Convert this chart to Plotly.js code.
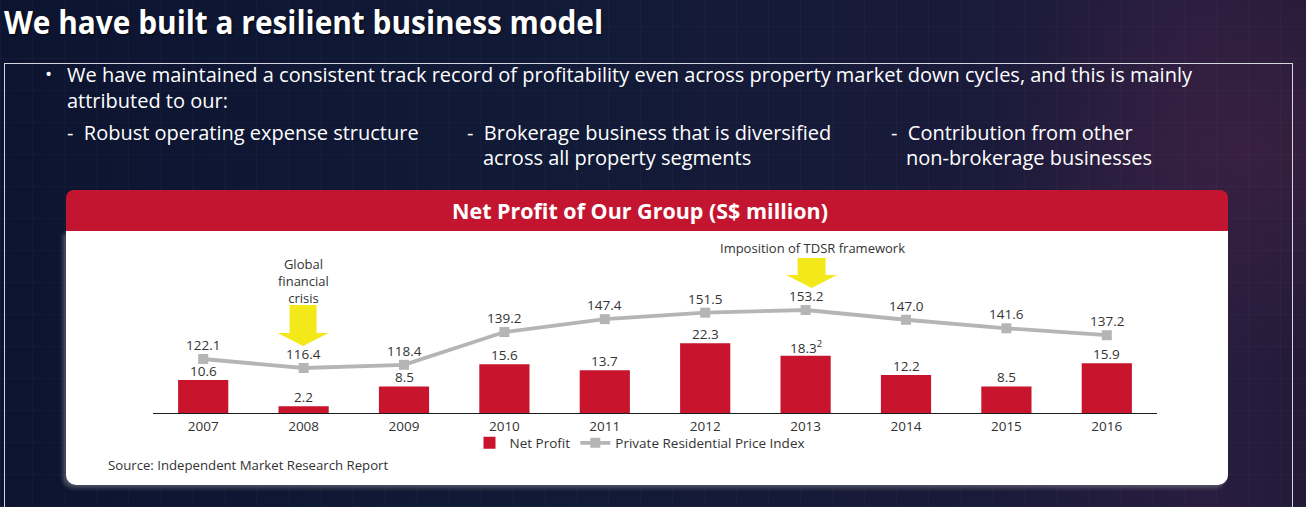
<!DOCTYPE html>
<html>
<head>
<meta charset="utf-8">
<script src="https://cdn.plot.ly/plotly-3.0.1.min.js"></script>
<style>
  html, body { margin:0; padding:0; }
  body {
    width:1306px; height:507px; overflow:hidden; position:relative;
    background:
      repeating-linear-gradient(90deg, rgba(255,255,255,0.025) 0 1px, transparent 1px 32px),
      repeating-linear-gradient(0deg, rgba(255,255,255,0.025) 0 1px, transparent 1px 32px),
      radial-gradient(ellipse 260px 220px at 1250px 150px, rgba(70,35,70,0.55), rgba(0,0,0,0) 100%),
      linear-gradient(90deg, #0c1430 0%, #111a37 45%, #1a1a3a 75%, #281d3e 92%, #231a38 100%);
    font-family: "Open Sans", sans-serif;
  }
  .t { position:absolute; white-space:nowrap; color:#fff; line-height:1; display:inline-block; transform-origin:left center; }
  #frame { position:absolute; left:4px; top:63px; width:1289px; height:520px; border:1.5px solid #d6d6de; box-sizing:border-box; }
  #hdr { position:absolute; left:66px; top:190px; width:1162px; height:41px; background:#c41530; border-radius:8px 8px 0 0; }
  #panel { position:absolute; left:66px; top:231px; width:1162px; height:254px; background:#fff; border-radius:0 0 10px 10px; box-shadow:-3px 3px 4px rgba(120,120,130,0.6); }
  #chart { position:absolute; left:0; top:0; width:1306px; height:507px; }
</style>
</head>
<body>
<div id="frame"></div>
<div id="hdr"></div>
<div id="panel"></div>

<span class="t" id="title" data-x="4" data-cy="22" data-w="599" style="font-size:33px;font-weight:700;text-shadow:1px 1px 2px rgba(0,0,0,0.7);">We have built a resilient business model</span>

<span class="t" data-x="45" data-cy="75" style="font-size:19px;">•</span>
<span class="t bul" id="l1" data-x="67" data-cy="75" data-w="1125" style="font-size:19.5px;">We have maintained a consistent track record of profitability even across property market down cycles, and this is mainly</span>
<span class="t bul" data-x="67" data-cy="101" style="font-size:19.5px;">attributed to our:</span>
<span class="t bul" data-x="67" data-cy="133" style="font-size:19.5px;">-&nbsp; Robust operating expense structure</span>
<span class="t bul" data-x="467" data-cy="133" style="font-size:19.5px;">-&nbsp; Brokerage business that is diversified</span>
<span class="t bul" data-x="483" data-cy="158" style="font-size:19.5px;">across all property segments</span>
<span class="t bul" data-x="891" data-cy="133" style="font-size:19.5px;">-&nbsp; Contribution from other</span>
<span class="t bul" data-x="906" data-cy="158" style="font-size:19.5px;">non-brokerage businesses</span>

<span class="t" id="ctitle" data-x="452" data-cy="212" data-w="376" style="font-size:21px;font-weight:700;">Net Profit of Our Group (S$ million)</span>

<div id="chart"></div>

<script>
// ---------------- data ----------------
const years = ['2007','2008','2009','2010','2011','2012','2013','2014','2015','2016'];
const netProfit = [10.6, 2.2, 8.5, 15.6, 13.7, 22.3, 18.3, 12.2, 8.5, 15.9];
const profitNotes = ['', '', '', '', '', '', '2', '', '', ''];
const priceIndex = [122.1, 116.4, 118.4, 139.2, 147.4, 151.5, 153.2, 147.0, 141.6, 137.2];
const seriesNames = ['Net Profit', 'Private Residential Price Index'];
const events = [
  { year: '2008', label: 'Global<br>financial<br>crisis' },
  { year: '2013', label: 'Imposition of TDSR framework' }
];
const sourceNote = 'Source: Independent Market Research Report';

// ---------------- text placement for slide ----------------
function placeTexts() {
  const els = document.querySelectorAll('.t');
  els.forEach(el => {
    const fs = parseFloat(el.style.fontSize);
    el.style.left = el.dataset.x + 'px';
    el.style.top = (parseFloat(el.dataset.cy) - 0.53 * fs) + 'px';
  });
  let bulScale = 1;
  els.forEach(el => {
    if (el.dataset.w) {
      el.style.transform = 'none';
      const w = el.getBoundingClientRect().width;
      const s = parseFloat(el.dataset.w) / w;
      el.style.transform = 'scaleX(' + s + ')';
      if (el.id === 'l1') bulScale = s;
    }
  });
  document.querySelectorAll('.bul').forEach(el => {
    if (el.id !== 'l1') el.style.transform = 'scaleX(' + bulScale + ')';
  });
}

// ---------------- chart ----------------
const W = 1306, H = 507;
const M = { l: 153, r: 149, t: 240, b: 94 };
const plotW = W - M.l - M.r, plotH = H - M.t - M.b;
const catIndex = y => years.indexOf(y);
const xPaper = (i, dxPx) => ((i + 0.5) * plotW / years.length + (dxPx || 0)) / plotW;
const yPaper = yPx => (H - M.b - yPx) / plotH;

function arrowPath(i, c, top, headTop, tip, shaftHalf, headHalf) {
  const p = [
    [xPaper(i, c - shaftHalf), yPaper(top)],
    [xPaper(i, c + shaftHalf), yPaper(top)],
    [xPaper(i, c + shaftHalf), yPaper(headTop)],
    [xPaper(i, c + headHalf), yPaper(headTop)],
    [xPaper(i, c), yPaper(tip)],
    [xPaper(i, c - headHalf), yPaper(headTop)],
    [xPaper(i, c - shaftHalf), yPaper(headTop)]
  ];
  return 'M' + p.map(q => q[0].toFixed(5) + ',' + q[1].toFixed(5)).join(' L') + ' Z';
}

const txtColor = '#333333';
const labelFont = { family: 'Open Sans', size: 13.5, color: txtColor };

const barTrace = {
  type: 'bar', x: years, y: netProfit, name: seriesNames[0],
  marker: { color: '#c8142d' }, width: 0.5,
  hoverinfo: 'x+y'
};
const lineTrace = {
  type: 'scatter', mode: 'lines+markers', x: years, y: priceIndex, yaxis: 'y2',
  name: seriesNames[1],
  line: { color: '#b5b5b5', width: 3.8 },
  marker: { symbol: 'square', size: 10, color: '#b5b5b5' },
  cliponaxis: false
};

const shapes = [
  { type: 'path', xref: 'paper', yref: 'paper', layer: 'above',
    path: arrowPath(catIndex(events[0].year), -0.5, 305, 333, 346, 13.5, 25.5),
    fillcolor: '#f3e81a', line: { width: 0 } },
  { type: 'path', xref: 'paper', yref: 'paper', layer: 'above',
    path: arrowPath(catIndex(events[1].year), 6, 258, 275, 288, 14, 25.5),
    fillcolor: '#f3e81a', line: { width: 0 } }
];

const annotations = [];
// data labels for bars
netProfit.forEach((v, i) => {
  annotations.push({
    xref: 'x', x: i, yref: 'y', y: v, yanchor: 'middle', yshift: 9,
    text: v.toFixed(1) + (profitNotes[i] ? '<sup>' + profitNotes[i] + '</sup>' : ''),
    showarrow: false, font: labelFont
  });
});
// data labels for line
priceIndex.forEach((v, i) => {
  annotations.push({
    xref: 'x', x: i, yref: 'y2', y: v, yanchor: 'middle', yshift: 14,
    text: v.toFixed(1), showarrow: false, font: labelFont
  });
});
annotations.push(
  { xref: 'paper', x: xPaper(catIndex(events[0].year), 0), xanchor: 'center', yref: 'paper', y: yPaper(281), yanchor: 'middle',
    text: events[0].label, showarrow: false,
    font: { family: 'Open Sans', size: 13, color: txtColor } },
  { xref: 'paper', x: xPaper(catIndex(events[1].year), 7), xanchor: 'center', yref: 'paper', y: yPaper(248), yanchor: 'middle',
    text: events[1].label, showarrow: false,
    font: { family: 'Open Sans', size: 13, color: txtColor } },
  { xref: 'paper', x: (106 - M.l) / plotW, xanchor: 'left', yref: 'paper', y: yPaper(465), yanchor: 'middle',
    text: sourceNote, showarrow: false,
    font: { family: 'Open Sans', size: 13.2, color: txtColor } }
);

const layout = {
  width: W, height: H,
  margin: { l: M.l, r: M.r, t: M.t, b: M.b, pad: 0 },
  paper_bgcolor: 'rgba(0,0,0,0)', plot_bgcolor: 'rgba(0,0,0,0)',
  showlegend: true,
  legend: { orientation: 'h', x: (640 - M.l) / plotW, xanchor: 'center', y: yPaper(443), yanchor: 'middle',
    font: { family: 'Open Sans', size: 13.5, color: txtColor }, bgcolor: 'rgba(0,0,0,0)', traceorder: 'normal',
    itemwidth: 30 },
  xaxis: { type: 'category', categoryorder: 'array', categoryarray: years,
    range: [-0.5, years.length - 0.5], autorange: false,
    showline: true, linecolor: '#1e1e1e', linewidth: 1.3,
    ticks: '', showgrid: false, zeroline: false, fixedrange: true,
    tickfont: { family: 'Open Sans', size: 13.5, color: txtColor } },
  yaxis: { range: [0, 55.4], autorange: false, visible: false, showgrid: false, zeroline: false, fixedrange: true },
  yaxis2: { range: [87.85, 197.6], autorange: false, overlaying: 'y', visible: false, showgrid: false, zeroline: false, fixedrange: true },
  shapes: shapes,
  annotations: annotations
};

Plotly.newPlot('chart', [barTrace, lineTrace], layout, { displayModeBar: false, staticPlot: true });

if (document.fonts && document.fonts.ready) {
  document.fonts.ready.then(placeTexts);
} else { placeTexts(); }
placeTexts();
</script>
</body>
</html>
